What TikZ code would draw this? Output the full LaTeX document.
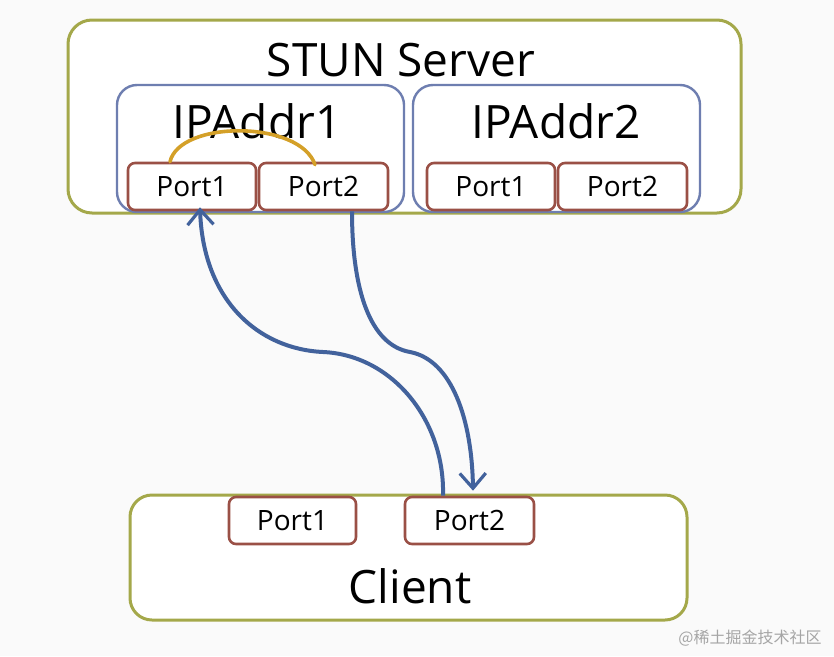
\documentclass[tikz,border=0pt]{standalone}
\usepackage{fontspec}
\setmainfont{Open Sans}
\newfontfamily\cjkfont{Noto Sans CJK SC}
\usetikzlibrary{arrows.meta}
\definecolor{bgc}{RGB}{250,250,250}
\definecolor{olivec}{RGB}{164,168,74}
\definecolor{ipc}{RGB}{110,126,176}
\definecolor{portc}{RGB}{154,80,70}
\definecolor{arrowc}{RGB}{66,98,156}
\definecolor{arcc}{RGB}{212,160,40}
\definecolor{wmc}{RGB}{165,165,165}
\tikzset{
  outerbox/.style={draw=olivec, line width=3pt, rounded corners=24pt, fill=white, inner sep=0pt},
  ipbox/.style={draw=ipc, line width=2.4pt, rounded corners=20pt, inner sep=0pt, minimum width=287pt, minimum height=127pt},
  portbox/.style={draw=portc, line width=2.6pt, rounded corners=7pt, fill=white, inner sep=0pt, minimum height=47pt, font=\fontsize{28}{30}\selectfont},
  bigtext/.style={inner sep=0pt, font=\fontsize{46}{50}\selectfont, text=black},
  flow/.style={draw=arrowc, line width=4pt, -{Straight Barb[length=15pt,width=26pt,line width=3.2pt]}},
}
\begin{document}
\begin{tikzpicture}[x=1pt, y=-1pt]
\useasboundingbox[fill=bgc] (0,0) rectangle (834,656);
% server
\node[outerbox, minimum width=673pt, minimum height=193pt] (server) at (404.5,116.5) {};
\node[bigtext] (serverlabel) at (401,60) {STUN Server};
\node[ipbox] (ip1) at (260.5,148.5) {};
\node[ipbox] (ip2) at (556.5,148.5) {};
\node[bigtext] (ip1label) at (257,121) {IPAddr1};
\node[bigtext] (ip2label) at (556,121) {IPAddr2};
\node[portbox, minimum width=128pt] (s1p1) at (192,186.5) {Port1};
\node[portbox, minimum width=129pt] (s1p2) at (323.5,186.5) {Port2};
\node[portbox, minimum width=128pt] (s2p1) at (491,186.5) {Port1};
\node[portbox, minimum width=129pt] (s2p2) at (622.5,186.5) {Port2};
% client
\node[outerbox, rounded corners=22pt, minimum width=557pt, minimum height=125pt] (client) at (408.5,557.5) {};
\node[bigtext] (clientlabel) at (410,586) {Client};
\node[portbox, minimum width=127pt] (c1) at (292.5,520.5) {Port1};
\node[portbox, minimum width=129pt] (c2) at (469.5,520.5) {Port2};
% flows
\draw[flow] ([xshift=-26.5pt]c2.north) .. controls (445,420) and (392,355) .. (323,352)
  .. controls (258,349) and (203,300) .. ([xshift=8pt,yshift=4pt]s1p1.south);
\draw[flow] ([xshift=28.5pt]s1p2.south) .. controls (352,290) and (370,345) .. (410,352)
  .. controls (452,360) and (472,420) .. ([xshift=3.5pt,yshift=5pt]c2.north);
% local arc
\draw[draw=arcc, line width=3.6pt, line cap=round] ([xshift=-22pt]s1p1.north) .. controls (180,120) and (300,120) .. ([xshift=-8.5pt,yshift=-3pt]s1p2.north);
% watermark
\node[inner sep=0pt, text=wmc, font=\cjkfont\fontsize{16}{18}\selectfont] (wm) at (750,638) {@稀土掘金技术社区};
\end{tikzpicture}
\end{document}
